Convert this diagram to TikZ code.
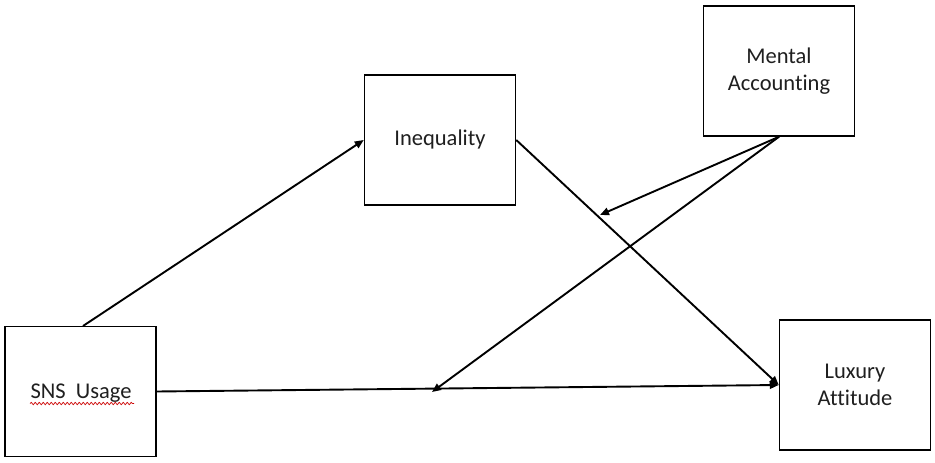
\documentclass[tikz,border=0pt]{standalone}
\usepackage{fontspec}
\setmainfont{Carlito}[Ligatures=NoCommon]
\usetikzlibrary{arrows.meta,decorations.pathmorphing}
\begin{document}
\begin{tikzpicture}[x=1pt,y=-1pt,
  lbl/.style={font=\fontsize{22.5}{27.5}\selectfont,text=black!88},
  box/.style={lbl,draw=black,line width=1.5pt,minimum width=151pt,minimum height=130pt,
    inner sep=0pt,align=center},
  conn/.style={line width=1.9pt,-{Triangle[length=9pt,width=7.5pt]}}]
\useasboundingbox (0,0) rectangle (935,463);
\fill[white] (0,0) rectangle (935,463);
\node[box] (sns) at (80.5,391.5) {};
\node[lbl,anchor=base] (snstext) at (81,398.5) {SNS\ \ Usage};
\draw[red!80!black,line width=0.7pt,decorate,decoration={snake,amplitude=1.2pt,segment length=4pt}]
  (30,403.5) -- (134,403.5);
\node[box] (ineq) at (440,140) {Inequality};
\node[box] (ment) at (779,71) {Mental\\Accounting};
\node[box] (lux) at (855,385) {Luxury\\Attitude};
\coordinate (snstop) at (83,326);
\coordinate (mod1) at (600,215);
\coordinate (mod2) at (432,392);
\draw[conn] (snstop) -- (ineq.west);
\draw[conn] (ineq.east) -- (lux.west);
\draw[conn] (sns.east) -- (lux.west);
\draw[conn] (ment.south) -- (mod1);
\draw[conn] (ment.south) -- (mod2);
\end{tikzpicture}
\end{document}
